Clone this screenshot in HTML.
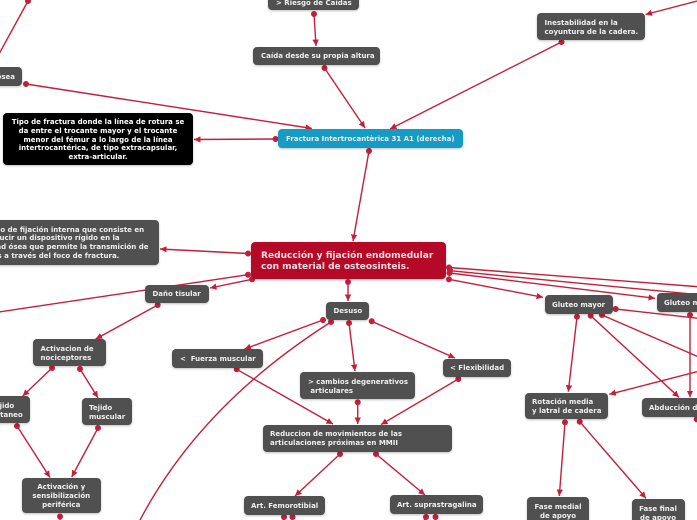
<!DOCTYPE html>
<html><head><meta charset="utf-8">
<style>
html,body{margin:0;padding:0;background:#fff}
#c{position:relative;width:697px;height:520px;overflow:hidden;background:#fff;font-family:"DejaVu Sans","Liberation Sans",sans-serif;font-weight:bold;color:#f0f0f0}
svg{position:absolute;left:0;top:0}
.n{position:absolute;box-sizing:border-box;background:#505050;border-radius:4px;box-shadow:0 1px 2px rgba(0,0,0,.25);font-size:7px;line-height:8.8px;white-space:nowrap;display:flex;align-items:center;padding:2px 7px 0}
.c{justify-content:center;text-align:center}
</style></head><body><div id="c">
<svg width="697" height="520" viewBox="0 0 697 520" fill="none" stroke="#c41f3a" stroke-width="1.4">
<defs>
<marker id="d" markerUnits="userSpaceOnUse" markerWidth="8" markerHeight="8" refX="4" refY="4" orient="auto"><circle cx="4" cy="4" r="3" fill="#c41f3a" stroke="none"/></marker>
<marker id="a" markerUnits="userSpaceOnUse" markerWidth="8" markerHeight="8" refX="6.500" refY="4" orient="auto"><path d="M0,0.800 L6.500,4 L0,7.200 Z" fill="#c41f3a" stroke="none"/></marker>
</defs>
<g marker-start="url(#d)" marker-end="url(#a)">
<line x1="314" y1="14" x2="316" y2="46"/>
<line x1="324.500" y1="68" x2="365" y2="128"/>
<line x1="26" y1="84" x2="312" y2="128.500"/>
<line x1="275.500" y1="139" x2="194" y2="139.500"/>
<line x1="369" y1="151" x2="353" y2="241"/>
<line x1="561.500" y1="42" x2="390" y2="129"/>
<line x1="248" y1="253.500" x2="160" y2="249"/>
<line x1="252" y1="279.300" x2="210" y2="288"/>
<line x1="348" y1="282" x2="348" y2="301"/>
<line x1="323" y1="320" x2="244.500" y2="349"/>
<line x1="349" y1="323" x2="355" y2="371"/>
<line x1="371.700" y1="321.300" x2="455" y2="358"/>
<line x1="236.700" y1="369.300" x2="333" y2="424"/>
<line x1="357.700" y1="402.300" x2="357.700" y2="424"/>
<line x1="458.300" y1="379" x2="381" y2="424.500"/>
<line x1="340" y1="454" x2="295" y2="496"/>
<line x1="376" y1="454" x2="425" y2="495"/>
<line x1="157.700" y1="305" x2="95.700" y2="339"/>
<line x1="52" y1="368" x2="22.700" y2="396"/>
<line x1="80" y1="369" x2="98" y2="397.700"/>
<line x1="17" y1="426" x2="50" y2="477.500"/>
<line x1="98" y1="428" x2="71.700" y2="477"/>
<line x1="449.500" y1="273" x2="655" y2="298.300"/>
<line x1="449" y1="279.300" x2="543" y2="297.300"/>
<line x1="577" y1="316.700" x2="568.300" y2="391.700"/>
<line x1="590.700" y1="315.700" x2="679" y2="397.300"/>
<line x1="690" y1="315" x2="690" y2="397.300"/>
<line x1="565" y1="422.300" x2="559.300" y2="496"/>
<line x1="579.700" y1="421.700" x2="646" y2="498.300"/>
</g>
<g marker-end="url(#a)">
<line x1="697" y1="1" x2="645.500" y2="14.500"/>
<line x1="697" y1="371.700" x2="609.300" y2="394.300"/>
</g>
<g marker-start="url(#d)">
<line x1="28" y1="1" x2="-1" y2="54"/>
<line x1="248" y1="274.700" x2="-1" y2="312"/>
<path d="M331,322 Q200,405 139,522"/>
<line x1="449" y1="267.500" x2="698" y2="286.700"/>
<line x1="450" y1="270.700" x2="698" y2="294.700"/>
<line x1="602" y1="315" x2="698" y2="356.700"/>
<line x1="615.700" y1="309" x2="698" y2="318.300"/>
<line x1="284" y1="517" x2="282" y2="524"/>
<line x1="292.500" y1="517" x2="292" y2="524"/>
<line x1="426" y1="517" x2="422" y2="524"/>
<line x1="435.500" y1="517" x2="435" y2="524"/>
<line x1="60" y1="516.500" x2="60" y2="524"/>
<line x1="696.700" y1="419.300" x2="698" y2="420"/>
</g>
</svg>

<div class="n" style="left:268px;top:-6px;width:91px;height:16px;padding-left:8px">&gt; Riesgo de Caídas</div>
<div class="n" style="left:253px;top:46.500px;width:127px;height:18.500px;padding-left:8px">Caída desde su propia altura</div>
<div class="n" style="left:-40px;top:67px;width:62px;height:19px;justify-content:flex-end">Fragilidad ósea</div>
<div class="n c" style="left:3px;top:113px;width:190px;height:52px;background:#000;color:#fff">Tipo de fractura donde la línea de rotura se<br>da entre el trocante mayor y el trocante<br>menor del fémur a lo largo de la línea<br>intertrocantérica, de tipo extracapsular,<br>extra-articular.</div>
<div class="n" style="left:278px;top:129px;width:185px;height:19px;background:#169cc4;padding-left:8px">Fractura Intertrocantèrica 31 A1 (derecha)</div>
<div class="n" style="left:537px;top:13px;width:108px;height:27px;padding-left:7.500px">Inestabilidad en la<br>coyuntura de la cadera.</div>
<div class="n" style="left:-40px;top:220px;width:199px;height:44.500px;padding-left:15.500px">Método de fijación interna que consiste en<br>introducir un dispositivo rígido en la<br>cavidad ósea que permite la transmición de<br>cargas a través del foco de fractura.</div>
<div class="n" style="left:251px;top:241.500px;width:195px;height:37.500px;background:#b40a27;font-size:9.050px;line-height:10.800px;padding:4px 10px 0;color:#f5dde2">Reducción y fijación endomedular<br>con material de osteosinteis.</div>
<div class="n" style="left:145px;top:284.500px;width:64px;height:18.500px;padding-left:7.500px">Daño tisular</div>
<div class="n" style="left:33px;top:339px;width:73px;height:27px;padding-left:7.500px">Activacion de<br>nociceptores</div>
<div class="n" style="left:-16px;top:396px;width:46px;height:27px">Tejido<br>cutaneo</div>
<div class="n" style="left:81.500px;top:398px;width:50.500px;height:27px;padding-left:7.500px">Tejido<br>muscular</div>
<div class="n c" style="left:21.500px;top:477.500px;width:79.500px;height:35.500px">Activación y<br>sensibilización<br>periférica</div>
<div class="n" style="left:172px;top:349px;width:91px;height:18.500px;padding-left:8px">&lt;&nbsp; Fuerza muscular</div>
<div class="n" style="left:326px;top:301.500px;width:43px;height:18.500px;padding-left:7.500px">Desuso</div>
<div class="n" style="left:300px;top:372px;width:115px;height:27px;padding-left:8px">&gt; cambios degenerativos<br>&nbsp;articulares</div>
<div class="n" style="left:442.500px;top:358.500px;width:68.500px;height:18.500px;padding-left:7.500px">&lt; Flexibilidad</div>
<div class="n" style="left:262.500px;top:425px;width:189.500px;height:26.500px;padding-left:7.500px">Reduccion de movimientos de las<br>articulaciones próximas en MMII</div>
<div class="n" style="left:243.500px;top:496px;width:81px;height:18.500px;padding-left:7.500px">Art. Femorotibial</div>
<div class="n" style="left:389.500px;top:495px;width:93px;height:18.500px;padding-left:7.500px">Art. suprastragalina</div>
<div class="n" style="left:544.500px;top:295px;width:68px;height:18.500px;padding-left:7.500px">Gluteo mayor</div>
<div class="n" style="left:656.500px;top:293px;width:70px;height:18.500px;padding-left:7.500px">Gluteo medio</div>
<div class="n" style="left:524.500px;top:392.500px;width:83px;height:26.500px;padding-left:7.500px">Rotación media<br>y latral de cadera</div>
<div class="n" style="left:641.500px;top:398px;width:90px;height:19px;padding-left:7.500px">Abducción de cadera</div>
<div class="n c" style="left:527px;top:497px;width:62px;height:33px;align-items:flex-start;padding-top:6px">Fase medial<br>de apoyo</div>
<div class="n c" style="left:631.500px;top:499px;width:53px;height:33px;align-items:flex-start;padding-top:6px">Fase final<br>de apoyo</div>
</div></body></html>
